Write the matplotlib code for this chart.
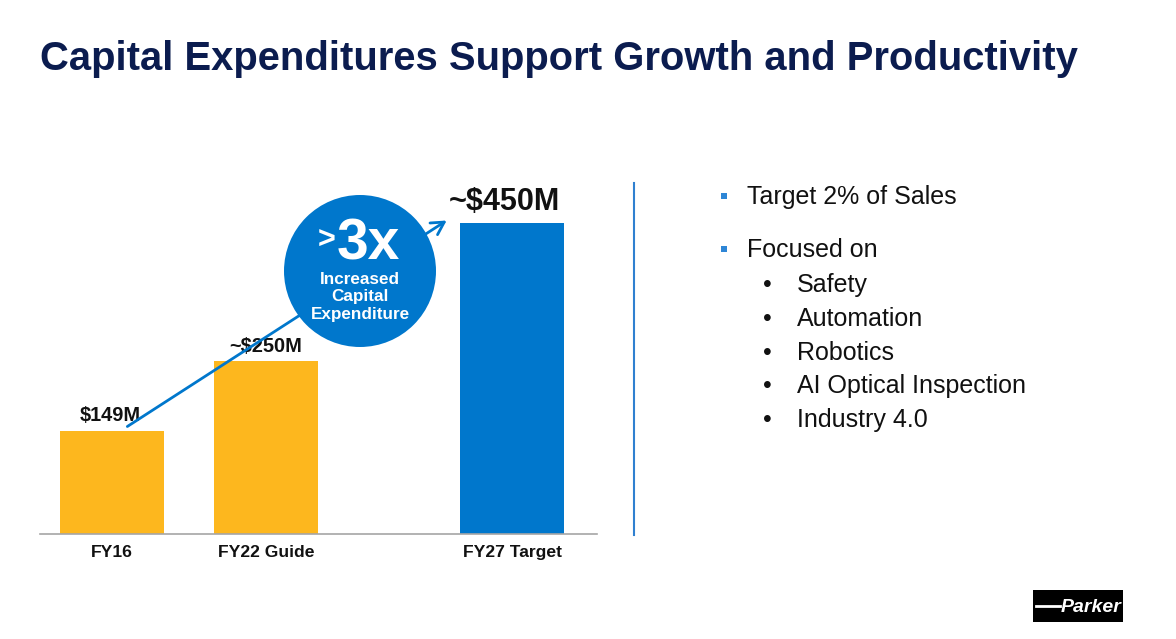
import matplotlib
matplotlib.use("Agg")
import matplotlib.pyplot as plt
from matplotlib.patches import Ellipse, FancyArrowPatch, Rectangle
from matplotlib.lines import Line2D

# ---- data ----
categories = ["FY16", "FY22 Guide", "FY27 Target"]
values = [149, 250, 450]
value_labels = ["$149M", "~$250M", "~$450M"]
positions = [0, 1, 2.6]
bar_colors = ["#FDB71E", "#FDB71E", "#0077CC"]
title = "Capital Expenditures Support Growth and Productivity"
main_bullets = ["Target 2% of Sales", "Focused on"]
sub_bullets = ["Safety", "Automation", "Robotics", "AI Optical Inspection", "Industry 4.0"]
circle_big = "3x"
circle_lines = ["Increased", "Capital", "Expenditure"]

W, H = 1176, 639
FONT = "Liberation Sans"
plt.rcParams["font.family"] = [FONT, "DejaVu Sans"]

fig = plt.figure(figsize=(W / 100, H / 100), dpi=100)
fig.patch.set_facecolor("white")

def fx(x):
    return x / W

def fy(y):
    return 1 - y / H

# ---- bar axes ----
ax_left, ax_right, ax_bottom, ax_top = 40, 597, 534, 180
ax = fig.add_axes([fx(ax_left), fy(ax_bottom), (ax_right - ax_left) / W, (ax_bottom - ax_top) / H])
unit = 154.0
ax.set_xlim(-(112 - ax_left) / unit, (ax_right - 112) / unit)
ax.set_ylim(0, 512)
ax.bar(positions, values, width=104 / unit, color=bar_colors, zorder=2)
for sp in ["top", "right", "left"]:
    ax.spines[sp].set_visible(False)
ax.spines["bottom"].set_color("#A6A6A6")
ax.spines["bottom"].set_linewidth(1.2)
ax.set_yticks([])
ax.set_xticks(positions)
ax.set_xticklabels(categories, fontsize=12.6, fontweight="bold", color="#111111")
ax.tick_params(axis="x", length=0, pad=8)
ax.patch.set_alpha(0)

label_sizes = [14.4, 14.4, 22]
label_dx = [-1, 0, -6]
label_dy = [4, 4, 4]
for p, v, lab, s, dx, dy in zip(positions, values, value_labels, label_sizes, label_dx, label_dy):
    ax.annotate(lab, (p, v), xytext=(dx, dy), textcoords="offset points",
                ha="center", va="bottom", fontsize=s, fontweight="bold", color="#111111")

# ---- title ----
fig.text(fx(40), fy(59), title, fontsize=28.8, fontweight="bold", color="#0B1C4F",
         ha="left", va="center")

# ---- arrow and circle ----
arrow = FancyArrowPatch((fx(125), fy(428)), (fx(449), fy(219)), transform=fig.transFigure,
                        arrowstyle="->,head_length=9,head_width=5", color="#0077CC",
                        lw=2.0, mutation_scale=1.0, zorder=3)
fig.patches.append(arrow)
circ = Ellipse((fx(360), fy(271)), 152 / W, 152 / H, transform=fig.transFigure,
               facecolor="#0077CC", edgecolor="none", zorder=4)
fig.patches.append(circ)
fig.text(fx(327), fy(241), ">", fontsize=22, fontweight="bold", color="white",
         ha="center", va="center", zorder=5)
fig.text(fx(368), fy(244), circle_big, fontsize=41, fontweight="bold", color="white",
         ha="center", va="center", zorder=5)
for i, t in enumerate(circle_lines):
    fig.text(fx(360), fy(279 + 17.5 * i), t, fontsize=12.3, fontweight="bold", color="white",
             ha="center", va="center", zorder=5)

# ---- divider ----
fig.add_artist(Line2D([fx(634), fx(634)], [fy(183), fy(535)], transform=fig.transFigure,
                      color="#2F80D0", lw=1.5))

# ---- right text ----
main_y = [197, 250]
for y, t in zip(main_y, main_bullets):
    fig.add_artist(Rectangle((fx(721), fy(y + 2)), 6 / W, 6 / H, transform=fig.transFigure,
                             facecolor="#2E86D6", edgecolor="none"))
    fig.text(fx(747), fy(y), t, fontsize=18, color="#111111", ha="left", va="center")
sub_y = [285, 319, 353, 386, 420]
for y, t in zip(sub_y, sub_bullets):
    fig.text(fx(767), fy(y), "\u2022", fontsize=18, color="#111111", ha="center", va="center")
    fig.text(fx(797), fy(y), t, fontsize=18, color="#111111", ha="left", va="center")

# ---- Parker logo ----
fig.add_artist(Rectangle((fx(1033), fy(622)), 90 / W, 32 / H, transform=fig.transFigure,
                         facecolor="black", edgecolor="none"))
fig.add_artist(Line2D([fx(1036), fx(1060)], [fy(606), fy(606)], transform=fig.transFigure,
                      color="white", lw=2))
fig.text(fx(1091), fy(607), "Parker", fontsize=14, fontweight="bold", fontstyle="italic",
         color="white", ha="center", va="center")

fig.savefig("out.png", dpi=100, facecolor="white")
